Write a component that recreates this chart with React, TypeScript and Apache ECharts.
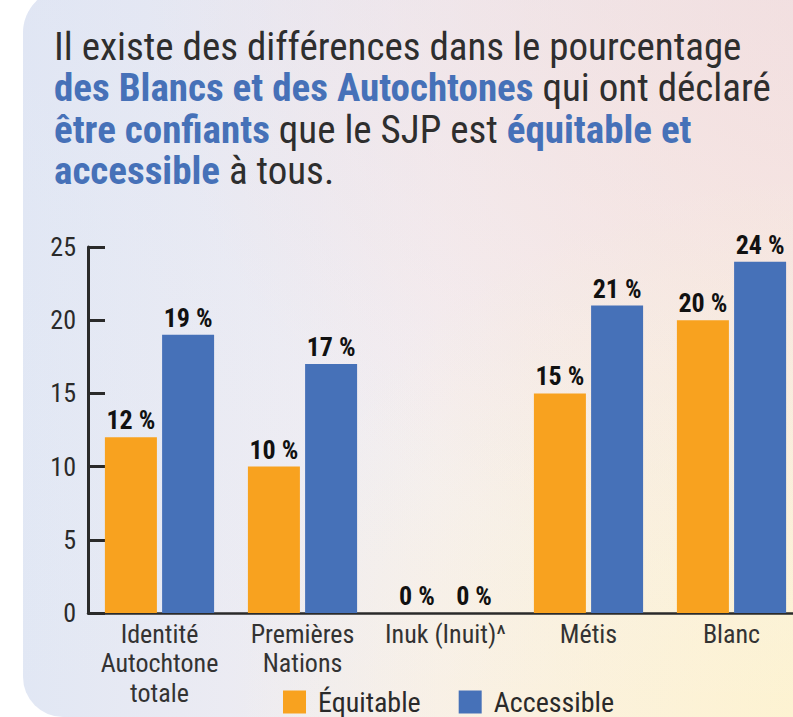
import React, { useEffect, useRef } from "react";
import * as echarts from "echarts";

const categories = ["Identité\nAutochtone\ntotale", "Premières\nNations", "Inuk (Inuit)^", "Métis", "Blanc"];
const equitable = [12, 10, 0, 15, 20];
const accessible = [19, 17, 0, 21, 24];
const yTicks = { min: 0, max: 25, interval: 5 };
const seriesNames = ["Équitable", "Accessible"];

const FONT = "'Roboto Condensed', Roboto, sans-serif";
const ORANGE = "#f8a21f";
const BLUE = "#4671b8";
const DARK = "#2a2a2a";

export default function App() {
  const ref = useRef<HTMLDivElement>(null);
  useEffect(() => {
    const chart = echarts.init(ref.current!, null, { renderer: "svg" });
    const cardShape = { x: 23, y: -12, width: 830, height: 729, r: [45, 0, 0, 40] };
    const labelFmt = (p: any) => `${p.value} %`;
    const barLabel = {
      show: true,
      position: "top",
      distance: 4,
      formatter: labelFmt,
      fontFamily: FONT,
      fontSize: 26,
      fontWeight: "bold",
      color: "#111",
    };
    chart.setOption({
      animation: false,
      textStyle: { fontFamily: FONT },
      graphic: [
        {
          type: "rect",
          z: -10,
          silent: true,
          shape: cardShape,
          style: {
            fill: new echarts.graphic.LinearGradient(0, 0, 1, 0, [
              { offset: 0, color: "#e1e7f4" },
              { offset: 0.5, color: "#f6eff1" },
              { offset: 1, color: "#fdefe2" },
            ]),
          },
        },
        {
          type: "rect",
          z: -9,
          silent: true,
          shape: cardShape,
          style: {
            fill: new echarts.graphic.RadialGradient(1, 0, 0.85, [
              { offset: 0, color: "rgba(252,220,214,1)" },
              { offset: 1, color: "rgba(252,220,214,0)" },
            ]),
          },
        },
        {
          type: "rect",
          z: -9,
          silent: true,
          shape: cardShape,
          style: {
            fill: new echarts.graphic.RadialGradient(1, 1, 0.75, [
              { offset: 0, color: "rgba(253,243,208,1)" },
              { offset: 1, color: "rgba(253,243,208,0)" },
            ]),
          },
        },
        {
          type: "rect",
          z: -9,
          silent: true,
          shape: cardShape,
          style: {
            fill: new echarts.graphic.LinearGradient(0, 0, 0, 1, [
              { offset: 0, color: "rgba(222,227,243,0.35)" },
              { offset: 1, color: "rgba(232,240,250,0.0)" },
            ]),
          },
        },
      ],
      title: {
        left: 54,
        top: 26,
        padding: 0,
        text:
          "{n|Il existe des différences dans le pourcentage}\n" +
          "{b|des Blancs et des Autochtones}{n| qui ont déclaré}\n" +
          "{b|être confiants}{n| que le SJP est }{b|équitable et}\n" +
          "{b|accessible}{n| à tous.}",
        textStyle: {
          fontWeight: "normal",
          rich: {
            n: { fontFamily: FONT, fontSize: 39, fontWeight: "normal", color: "#2e2e2e", lineHeight: 41.5 },
            b: { fontFamily: FONT, fontSize: 39, fontWeight: "bold", color: "#4671b8", lineHeight: 41.5 },
          },
        },
      },
      legend: {
        left: 283,
        top: 688,
        padding: 0,
        itemWidth: 23,
        itemHeight: 23,
        itemGap: 38,
        icon: "rect",
        data: seriesNames,
        textStyle: { fontFamily: FONT, fontSize: 28, color: DARK, padding: [0, 0, 0, 7] },
      },
      grid: { left: 88, right: 10, top: 247, bottom: 104, containLabel: false },
      xAxis: {
        type: "category",
        data: categories,
        axisLine: { lineStyle: { color: DARK, width: 2.5 } },
        axisTick: { inside: true, length: 9, lineStyle: { color: DARK, width: 2.5 } },
        axisLabel: {
          interval: 0,
          fontFamily: FONT,
          fontSize: 26,
          lineHeight: 29.5,
          color: "#333",
          margin: 6,
        },
      },
      yAxis: {
        type: "value",
        min: yTicks.min,
        max: yTicks.max,
        interval: yTicks.interval,
        splitLine: { show: false },
        axisLine: { show: true, lineStyle: { color: DARK, width: 3 } },
        axisTick: { show: true, inside: true, length: 17, lineStyle: { color: DARK, width: 3 } },
        axisLabel: { fontFamily: FONT, fontSize: 26, color: DARK, margin: 12 },
      },
      series: [
        {
          name: seriesNames[0],
          type: "bar",
          data: equitable,
          barWidth: 52,
          barGap: "10%",
          itemStyle: { color: ORANGE },
          label: barLabel,
        },
        {
          name: seriesNames[1],
          type: "bar",
          data: accessible,
          barWidth: 52,
          barGap: "10%",
          itemStyle: { color: BLUE },
          label: barLabel,
        },
      ],
    });
    return () => chart.dispose();
  }, []);
  return (
    <div style={{ position: "fixed", left: 0, top: 0, width: 793, height: 717, background: "#fff", overflow: "hidden" }}>
      <div ref={ref} style={{ width: 813, height: 717 }} />
    </div>
  );
}
